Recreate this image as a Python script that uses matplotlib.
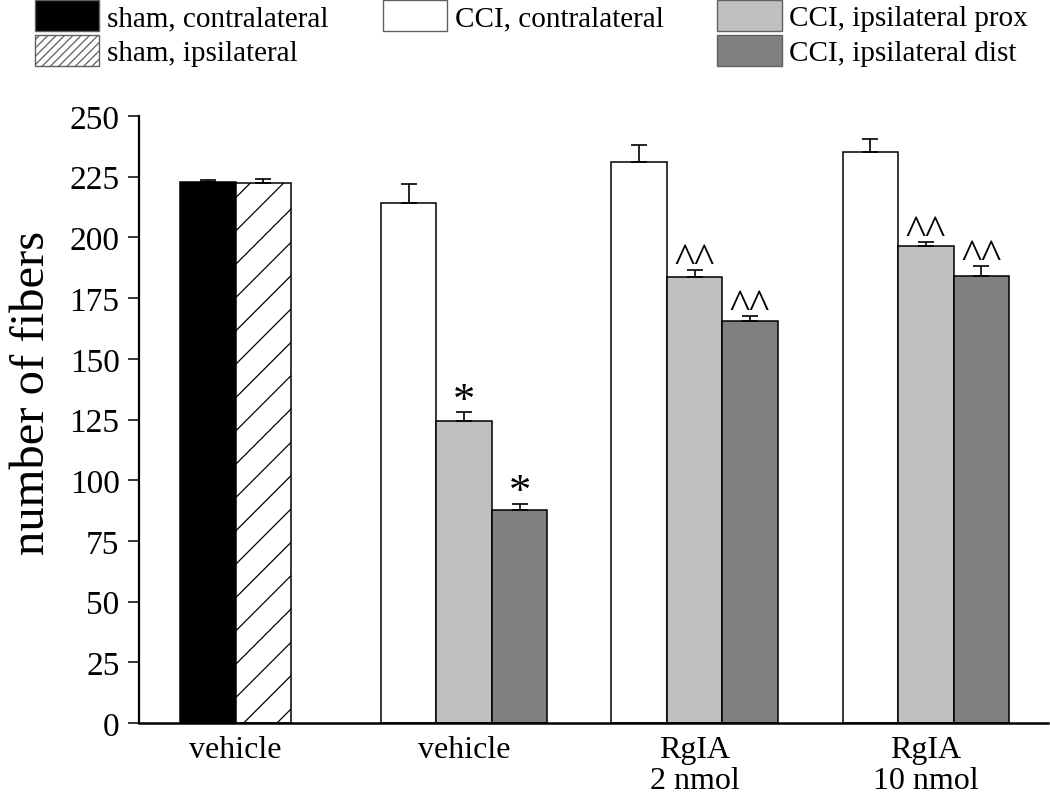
import matplotlib
matplotlib.use('Agg')
import matplotlib.pyplot as plt
from matplotlib.patches import Patch

plt.rcParams['font.family'] = ['Liberation Serif', 'DejaVu Serif']
plt.rcParams['hatch.linewidth'] = 0.9

# values
group_labels = ['vehicle', 'vehicle', 'RgIA\n2 nmol', 'RgIA\n10 nmol']

sham_contra = [223.0]
sham_contra_err = [0.8]
sham_ipsi = [222.6]
sham_ipsi_err = [1.4]

cci_contra = [214.0, 231.2, 235.2]
cci_contra_err = [7.8, 6.7, 5.2]
cci_prox = [124.5, 183.8, 196.5]
cci_prox_err = [3.5, 2.6, 1.5]
cci_dist = [87.9, 165.6, 184.2]
cci_dist_err = [2.3, 2.0, 3.9]

prox_marks = ['*', '^^', '^^']
dist_marks = ['*', '^^', '^^']

# layout
group_centers = [1.74, 5.86, 10.01, 14.18]
w = 1.0
light = '#c0c0c0'
dark = '#808080'

fig = plt.figure(figsize=(10.5, 8.04), dpi=100)
ax = fig.add_axes([139 / 1050, 1 - 724 / 804, 909 / 1050, 607 / 804])

ekw = dict(ecolor='black', elinewidth=1.2, capsize=6, capthick=1.2)
bkw = dict(width=w, edgecolor='black', linewidth=1.1)

# sham group
g0 = group_centers[0]
ax.bar([g0 - 0.5], sham_contra, color='black', yerr=[[0], sham_contra_err],
       error_kw=ekw, **bkw)
ax.bar([g0 + 0.5], sham_ipsi, color='white', hatch='/', yerr=[[0], sham_ipsi_err],
       error_kw=ekw, **bkw)

# CCI groups
cx = group_centers[1:]
zeros = [0] * len(cx)
ax.bar([c - 1 for c in cx], cci_contra, color='white',
       yerr=[zeros, cci_contra_err], error_kw=ekw, **bkw)
ax.bar(cx, cci_prox, color=light, yerr=[zeros, cci_prox_err], error_kw=ekw, **bkw)
ax.bar([c + 1 for c in cx], cci_dist, color=dark, yerr=[zeros, cci_dist_err],
       error_kw=ekw, **bkw)

# significance marks
def mark(x, top, s):
    if s == '*':
        ax.annotate(s, (x, top), xytext=(0, -6), textcoords='offset points',
                    ha='center', va='bottom', fontsize=32)
    else:
        ax.annotate(s, (x, top), xytext=(0, -7), textcoords='offset points',
                    ha='center', va='bottom', fontsize=31)

for i, c in enumerate(cx):
    mark(c, cci_prox[i] + cci_prox_err[i], prox_marks[i])
    mark(c + 1, cci_dist[i] + cci_dist_err[i], dist_marks[i])

ax.set_xlim(0, 16.38)
ax.set_ylim(0, 250)
ax.set_yticks(range(0, 251, 25))
ax.set_xticks(group_centers)
ax.set_xticklabels(group_labels, fontsize=23, linespacing=1.08)
ax.tick_params(axis='y', labelsize=24, length=8, width=1.1, pad=6, direction='out')
ax.tick_params(axis='x', length=0, pad=9)
for side in ['top', 'right']:
    ax.spines[side].set_visible(False)
ax.spines['left'].set_linewidth(1.6)
ax.spines['bottom'].set_linewidth(1.8)

fig.text(32 / 1050, 1 - 393 / 804, 'number of fibers', rotation=90,
         ha='center', va='center', fontsize=35)

# legend
edge = '#606060'
handles = [
    Patch(facecolor='black', edgecolor=edge, label='sham, contralateral'),
    Patch(facecolor='white', edgecolor=edge, hatch='////', label='sham, ipsilateral'),
    Patch(facecolor='white', edgecolor=edge, label='CCI, contralateral'),
    Patch(visible=False, label=''),
    Patch(facecolor=light, edgecolor=edge, label='CCI, ipsilateral prox'),
    Patch(facecolor=dark, edgecolor=edge, label='CCI, ipsilateral dist'),
]
fig.legend(handles=handles, ncol=3, loc='upper left',
           bbox_to_anchor=(35 / 1050, 1 - 1 / 804), frameon=False,
           fontsize=21, handlelength=2.2, handleheight=1.25,
           handletextpad=0.27, columnspacing=1.85, labelspacing=0.12,
           borderpad=0, borderaxespad=0)

fig.savefig('out.png', dpi=100)
